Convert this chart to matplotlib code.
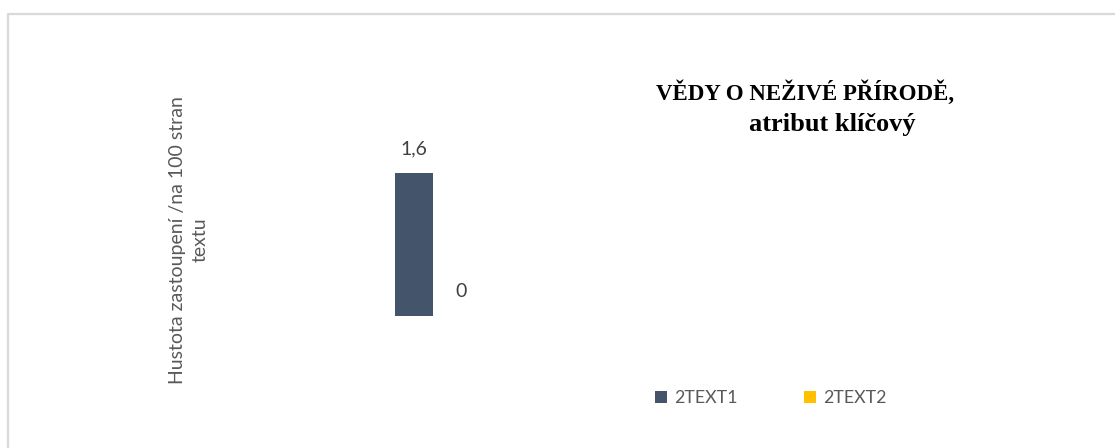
import matplotlib
matplotlib.use("Agg")
import matplotlib.pyplot as plt
from matplotlib.lines import Line2D

# ---- data ----
categories = [""]
series_names = ["2TEXT1", "2TEXT2"]
series_values = [[1.6], [0.0]]
series_colors = ["#44546A", "#FFC000"]
title_line1 = "VĚDY O NEŽIVÉ PŘÍRODĚ,"
title_line2 = "atribut klíčový"
ylabel = "Hustota zastoupení /na 100 stran\ntextu"

W, H = 1115, 448
fig = plt.figure(figsize=(W / 100, H / 100), dpi=100)
fig.patch.set_facecolor("white")

def fx(px):
    return px / W

def fy(py):
    return 1 - py / H

# border (top and left lines)
fig.add_artist(Line2D([fx(8), fx(8), 1.0], [0.0, fy(14), fy(14)],
                      transform=fig.transFigure, color="#D9D9D9", lw=1.6))

ax_left, ax_right = 197.5, 677.5
ax_bottom_px = 316
ax_h_px = 142.7 * 1.25
ax = fig.add_axes([fx(ax_left), fy(ax_bottom_px), fx(ax_right - ax_left), ax_h_px / H])
ax.set_xlim(-0.5, 0.5)
ax.set_ylim(0, 2.0)
ax.axis("off")

unit = ax_right - ax_left
bar_w = 38 / unit
offsets = [-23.5 / unit, 23.5 / unit]
fontfam = ["Lato", "DejaVu Sans"]

bars = []
for i, (name, vals) in enumerate(zip(series_names, series_values)):
    xs = [c + offsets[i] for c in range(len(categories))]
    b = ax.bar(xs, vals, width=bar_w, color=series_colors[i], label=name)
    bars.append(b)
    for x, v in zip(xs, vals):
        lab = f"{v:g}".replace(".", ",")
        ax.annotate(lab, (x, v), xytext=(0, 17.3), textcoords="offset points",
                    ha="center", va="center", fontsize=14, color="#404040",
                    family=fontfam)

# y label
fig.text(fx(189), fy(240), ylabel, rotation=90, ha="center", va="center",
         multialignment="center", fontsize=14, color="#595959", family=fontfam,
         linespacing=1.4)

# title
fig.text(fx(805), fy(100), title_line1, ha="center", va="baseline",
         fontsize=16.5, fontweight="bold", family="Liberation Serif", color="black")
fig.text(fx(832), fy(131), title_line2, ha="center", va="baseline",
         fontsize=19, fontweight="bold", family="Liberation Serif", color="black")

# legend
leg = fig.legend(handles=[b for b in bars], labels=series_names, ncol=2,
                 loc="center left", bbox_to_anchor=(fx(655), fy(398)),
                 frameon=False, prop={"family": fontfam, "size": 12.8},
                 handlelength=0.65, handleheight=0.65, handletextpad=0.42,
                 columnspacing=3.75, borderpad=0, borderaxespad=0)
for t in leg.get_texts():
    t.set_color("#595959")

fig.savefig("out.png", dpi=100, facecolor="white")
